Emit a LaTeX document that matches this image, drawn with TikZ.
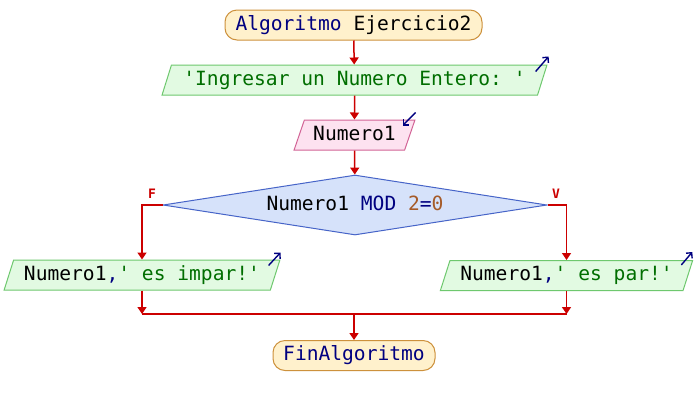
\documentclass[tikz,border=0pt]{standalone}
\usepackage{fontspec}
\setmonofont{DejaVu Sans Mono}
\usetikzlibrary{shapes.geometric,arrows.meta}

\definecolor{flowred}{RGB}{204,0,0}
\definecolor{kw}{RGB}{0,0,128}
\definecolor{str}{RGB}{0,110,0}
\definecolor{num}{RGB}{165,90,40}
\definecolor{termfill}{RGB}{255,241,204}
\definecolor{termline}{RGB}{205,145,60}
\definecolor{outfill}{RGB}{226,250,226}
\definecolor{outline}{RGB}{110,200,110}
\definecolor{infill}{RGB}{253,226,240}
\definecolor{inline}{RGB}{210,100,150}
\definecolor{decfill}{RGB}{214,226,250}
\definecolor{decline}{RGB}{70,100,200}

\begin{document}
\begin{tikzpicture}[x=1pt,y=-1pt,
  every node/.style={font=\ttfamily\fontsize{19.6}{22}\selectfont, inner sep=2pt,
    text height=14pt, text depth=4pt},
  term/.style={rectangle, rounded corners=12pt, draw=termline, fill=termfill,
    line width=1pt, minimum height=30pt},
  para/.style={trapezium, trapezium left angle=68, trapezium right angle=112,
    trapezium stretches=true, line width=1pt, minimum height=30pt},
  outbox/.style={para, draw=outline, fill=outfill},
  inbox/.style={para, draw=inline, fill=infill},
  decbox/.style={diamond, draw=decline, fill=decfill, line width=1pt,
    minimum width=384pt, minimum height=60pt, inner sep=0pt},
  flow/.style={draw=flowred, line width=1.5pt,
    -{Triangle[length=7pt,width=9pt]}},
  wire/.style={draw=flowred, line width=1.5pt},
  icon/.style={draw=kw, line width=1.4pt, -{Straight Barb[length=4pt,width=8pt]}},
  branch/.style={text=flowred, font=\ttfamily\bfseries\fontsize{13}{13}\selectfont,
    text height=9pt, text depth=0pt, inner sep=0pt}
]
\useasboundingbox (0,0) rectangle (696,405);
\fill[white] (0,0) rectangle (696,405);

% blocks of the flowchart
\node[term, minimum width=257pt] (start) at (353.5,25) {{\color{kw}Algoritmo} Ejercicio2};
\node[outbox, minimum width=385pt] (out1) at (354.5,80) {\color{str}'Ingresar un Numero Entero: '};
\node[inbox, minimum width=121pt] (in1) at (354.5,135) {Numero1};
\node[decbox] (dec) at (355,205) {};
\node (dectext) at (dec.center) {Numero1 {\color{kw}MOD} {\color{num}2}{\color{kw}=}{\color{num}0}};
\node[outbox, minimum width=276pt] (outL) at (142,275) {Numero1{\color{kw},}{\color{str}' es impar!'}};
\node[outbox, minimum width=253pt] (outR) at (566.5,275.5) {Numero1{\color{kw},}{\color{str}' es par!'}};
\node[term, minimum width=162pt] (end) at (354,355.5) {\color{kw}FinAlgoritmo};

% branch labels
\node[branch] (lblF) at (152,194) {F};
\node[branch] (lblV) at (556,194) {V};

% input / output markers
\draw[icon] ([shift={(-12,7)}]out1.top right corner) -- ([shift={(1,-8)}]out1.top right corner);
\draw[icon] ([shift={(0,-7)}]in1.top right corner) -- ([shift={(-13,6)}]in1.top right corner);
\draw[icon] ([shift={(-12,6)}]outL.top right corner) -- ([shift={(0,-7)}]outL.top right corner);
\draw[icon] ([shift={(-12,5)}]outR.top right corner) -- ([shift={(-1,-8)}]outR.top right corner);

% connectors
\coordinate (join) at (354,314);
\draw[flow] (start) -- (out1);
\draw[flow] (out1) -- (in1);
\draw[flow] (in1) -- (dec);
\draw[flow] (dec.west) -| (outL.north);
\draw[flow] (dec.east) -| (outR.north);
\draw[flow] (outL.south) -- (outL.south |- join);
\draw[flow] (outR.south) -- (outR.south |- join);
\draw[wire] (outL.south |- join) -- (outR.south |- join);
\draw[flow] (join) -- (end);
\end{tikzpicture}
\end{document}
